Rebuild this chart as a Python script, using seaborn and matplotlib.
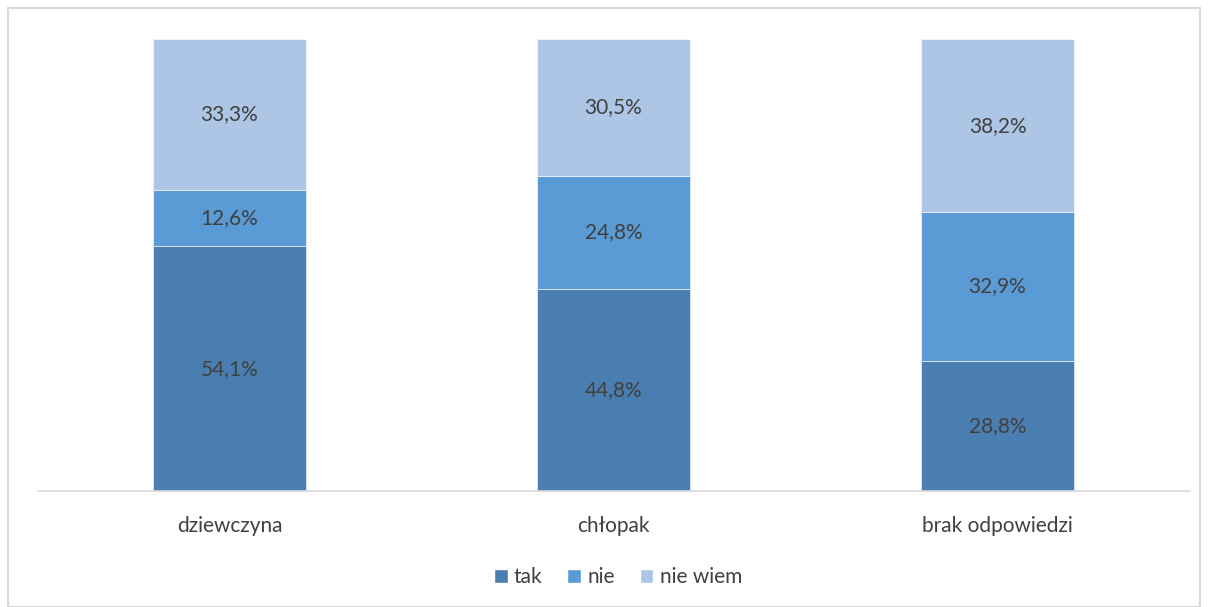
import pandas as pd
import matplotlib.pyplot as plt
import seaborn as sns
from matplotlib.patches import Rectangle, Patch

# data
categories = ["dziewczyna", "chłopak", "brak odpowiedzi"]
tak = [54.1, 44.8, 28.8]
nie = [12.6, 24.8, 32.9]
nie_wiem = [33.3, 30.5, 38.2]

series_names = ["tak", "nie", "nie wiem"]
colors = ["#4a7eb0", "#5b9bd5", "#adc6e5"]

sns.set_style("white")
plt.rcParams["font.family"] = ["Lato", "DejaVu Sans"]

fig = plt.figure(figsize=(12.08, 6.07), dpi=100)
ax = fig.add_axes([37.5 / 1208, 1 - 491 / 607, 1152 / 1208, 452 / 607])

# light border around the chart area
fig.patches.append(Rectangle((8 / 1208, 0), 1192 / 1208, 1 - 8 / 607, transform=fig.transFigure,
                             fill=False, edgecolor="#d9d9d9", linewidth=1.5))

data = pd.DataFrame({"kategoria": categories, "tak": tak, "nie": nie, "nie wiem": nie_wiem})

bottom = [0, 0, 0]
for name, color in zip(series_names, colors):
    sns.barplot(data=data, x="kategoria", y=name, color=color, width=0.4, saturation=1,
                bottom=bottom, ax=ax, edgecolor="white", linewidth=0.4)
    vals = data[name].tolist()
    for i, v in enumerate(vals):
        ax.text(i, bottom[i] + v / 2, f"{v:.1f}%".replace(".", ","),
                ha="center", va="center", fontsize=15, color="#404040")
    bottom = [b + v for b, v in zip(bottom, vals)]

ax.set_ylim(0, 100)
ax.set_xlim(-0.5, 2.5)
ax.set_xlabel("")
ax.set_ylabel("")
ax.set_yticks([])
ax.tick_params(axis="x", length=0, labelsize=15, labelcolor="#404040", pad=18)
for s in ["top", "left", "right"]:
    ax.spines[s].set_visible(False)
ax.spines["bottom"].set_color("#d9d9d9")
ax.spines["bottom"].set_linewidth(1.2)

# legend
handles = [Patch(facecolor=c, label=n) for n, c in zip(series_names, colors)]
fig.legend(handles=handles, loc="center", bbox_to_anchor=(618 / 1208, 1 - 577 / 607),
           ncol=3, frameon=False, fontsize=15, handlelength=0.65, handleheight=0.65,
           handletextpad=0.3, columnspacing=1.2, labelcolor="#404040")

fig.savefig("out.png", dpi=100)
